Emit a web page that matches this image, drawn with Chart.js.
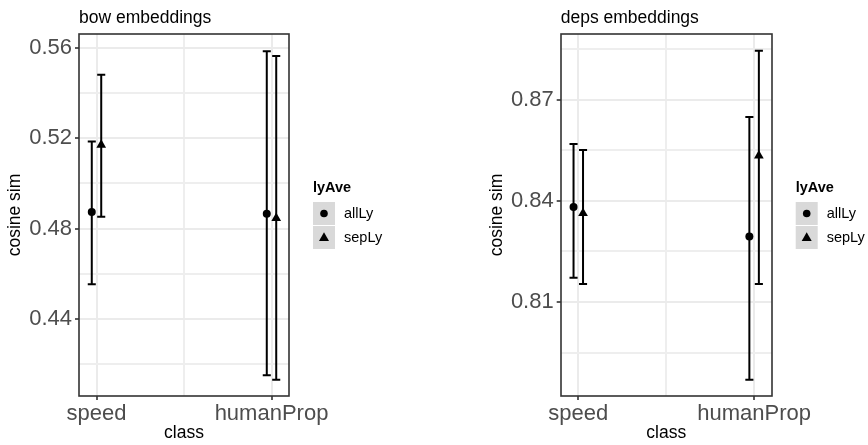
<!DOCTYPE html>
<html>
<head>
<meta charset="utf-8">
<script src="https://cdn.jsdelivr.net/npm/chart.js@4.4.1/dist/chart.umd.min.js"></script>
<style>
  html, body { margin: 0; padding: 0; background: #fff; }
  #wrap { position: relative; width: 868px; height: 445px; }
  .panel { position: absolute; top: 0; width: 434px; height: 445px; }
</style>
</head>
<body>
<div id="wrap">
  <div class="panel" style="left:0"><canvas id="bowChart" width="434" height="445"></canvas></div>
  <div class="panel" style="left:434px"><canvas id="depsChart" width="434" height="445"></canvas></div>
</div>
<script>
const classes = ["speed", "humanProp"];
const groups = ["allLy", "sepLy"];
const legendTitle = "lyAve";

/* bow embeddings */
const bowAllMean = [0.4873, 0.4866];
const bowAllLo = [0.4554, 0.4152];
const bowAllHi = [0.5185, 0.5584];
const bowSepMean = [0.5170, 0.4846];
const bowSepLo = [0.4852, 0.4132];
const bowSepHi = [0.5480, 0.5563];
const bowYMajor = [0.44, 0.48, 0.52, 0.56];
const bowYMinor = [0.42, 0.46, 0.50, 0.54];

/* deps embeddings */
const depsAllMean = [0.8382, 0.8294];
const depsAllLo = [0.8172, 0.7869];
const depsAllHi = [0.8569, 0.8649];
const depsSepMean = [0.8363, 0.8534];
const depsSepLo = [0.8153, 0.8153];
const depsSepHi = [0.8551, 0.8845];
const depsYMajor = [0.81, 0.84, 0.87];
const depsYMinor = [0.795, 0.825, 0.855, 0.885];

const FONT = '"Liberation Sans", Arial, Helvetica, sans-serif';
const dodge = 0.027;
const capWidth = 0.046;

Chart.defaults.font.family = FONT;

/* error bars, drawn under the points */
const errorBars = {
  id: "errorBars",
  beforeDatasetsDraw(chart) {
    const { ctx, scales: { x, y } } = chart;
    ctx.save();
    ctx.strokeStyle = "#000";
    ctx.lineWidth = 2;
    chart.data.datasets.forEach(ds => {
      ds.data.forEach(d => {
        const px = x.getPixelForValue(d.x);
        const half = x.getPixelForValue(d.x + capWidth / 2) - px;
        const yLo = y.getPixelForValue(d.lo);
        const yHi = y.getPixelForValue(d.hi);
        ctx.beginPath();
        ctx.moveTo(px, yLo); ctx.lineTo(px, yHi);
        ctx.moveTo(px - half, yLo); ctx.lineTo(px + half, yLo);
        ctx.moveTo(px - half, yHi); ctx.lineTo(px + half, yHi);
        ctx.stroke();
      });
    });
    ctx.restore();
  }
};

/* panel border, title and legend like ggplot theme_bw */
const ggDecor = {
  id: "ggDecor",
  afterDraw(chart, args, opts) {
    const { ctx, chartArea: a } = chart;
    ctx.save();
    ctx.strokeStyle = "#333";
    ctx.lineWidth = 1.6;
    ctx.strokeRect(Math.round(a.left), Math.round(a.top),
      Math.round(a.right - a.left), Math.round(a.bottom - a.top));

    ctx.fillStyle = "#000";
    ctx.font = "17.5px " + FONT;
    ctx.textBaseline = "alphabetic";
    ctx.textAlign = "left";
    ctx.fillText(opts.title, a.left, 23);

    // legend
    const lx = a.right + 24;
    const top = (a.top + a.bottom) / 2 - 34;
    ctx.font = "bold 14.5px " + FONT;
    ctx.fillText(legendTitle, lx, top + 10.5);
    groups.forEach((g, i) => {
      const ky = top + 21 + i * 24;
      ctx.fillStyle = "#D9D9D9";
      ctx.fillRect(lx, ky, 22, 23);
      const cx = lx + 11, cy = ky + 11.5;
      ctx.fillStyle = "#000";
      ctx.beginPath();
      if (i === 0) {
        ctx.arc(cx, cy, 3.8, 0, Math.PI * 2);
      } else {
        ctx.moveTo(cx, cy - 5.2);
        ctx.lineTo(cx + 5, cy + 3.6);
        ctx.lineTo(cx - 5, cy + 3.6);
        ctx.closePath();
      }
      ctx.fill();
      ctx.font = "14.5px " + FONT;
      ctx.textBaseline = "middle";
      ctx.fillText(g, lx + 31, cy);
      ctx.textBaseline = "alphabetic";
    });
    ctx.restore();
  }
};

function points(mean, lo, hi, shift) {
  return classes.map((c, i) => ({ x: i + 1 + shift, y: mean[i], lo: lo[i], hi: hi[i] }));
}

const gridOpts = {
  color: c => (c.tick && c.tick.lab ? "#EBEBEB" : "#EEEEEE"),
  lineWidth: 2,
  tickColor: c => (c.tick && c.tick.lab ? "#333" : "rgba(0,0,0,0)"),
  tickLength: 4,
  tickWidth: 1.6
};

function makePanel(id, title, all, sep, yMin, yMax, yMajor, yMinor, padLeft, padRight) {
  const yTicks = yMajor.map(v => ({ value: v, lab: true }))
    .concat(yMinor.map(v => ({ value: v, lab: false })))
    .sort((p, q) => p.value - q.value);
  const xTicks = [
    { value: 1, lab: classes[0] },
    { value: 1.5, lab: "" },
    { value: 2, lab: classes[1] }
  ];

  new Chart(document.getElementById(id), {
    type: "scatter",
    data: {
      datasets: [
        {
          label: groups[0],
          data: points(all[0], all[1], all[2], -dodge),
          pointStyle: "circle",
          pointRadius: 4,
          backgroundColor: "#000",
          borderWidth: 0
        },
        {
          label: groups[1],
          data: points(sep[0], sep[1], sep[2], dodge),
          pointStyle: "triangle",
          pointRadius: 5.6,
          backgroundColor: "#000",
          borderWidth: 0
        }
      ]
    },
    options: {
      responsive: false,
      animation: false,
      layout: { padding: { left: padLeft, right: padRight, top: 34, bottom: 0 } },
      plugins: {
        legend: { display: false },
        tooltip: { enabled: false },
        ggDecor: { title: title }
      },
      scales: {
        x: {
          type: "linear",
          min: 0.9,
          max: 2.1,
          afterBuildTicks: axis => { axis.ticks = xTicks.map(t => ({ ...t })); },
          afterFit: scale => { scale.height = 49; },
          ticks: {
            autoSkip: false,
            maxRotation: 0,
            padding: 1,
            color: "#4D4D4D",
            font: { size: 22 },
            callback: (v, i, ticks) => ticks[i].lab
          },
          grid: gridOpts,
          border: { display: false },
          title: {
            display: true,
            text: "class",
            color: "#000",
            font: { size: 17.5 },
            padding: { top: 0, bottom: 1 }
          }
        },
        y: {
          type: "linear",
          min: yMin,
          max: yMax,
          afterBuildTicks: axis => { axis.ticks = yTicks.map(t => ({ ...t })); },
          afterFit: scale => { scale.width = 79; },
          ticks: {
            autoSkip: false,
            padding: 3,
            color: "#4D4D4D",
            font: { size: 22 },
            callback: (v, i, ticks) => (ticks[i].lab ? String(v) : "")
          },
          grid: gridOpts,
          border: { display: false },
          title: {
            display: true,
            text: "cosine sim",
            color: "#000",
            font: { size: 17.5 },
            padding: { top: 5, bottom: 0 }
          }
        }
      }
    },
    plugins: [errorBars, ggDecor]
  });
}

makePanel("bowChart", "bow embeddings",
  [bowAllMean, bowAllLo, bowAllHi], [bowSepMean, bowSepLo, bowSepHi],
  0.406, 0.566, bowYMajor, bowYMinor, 0, 145);

makePanel("depsChart", "deps embeddings",
  [depsAllMean, depsAllLo, depsAllHi], [depsSepMean, depsSepLo, depsSepHi],
  0.7821, 0.8895, depsYMajor, depsYMinor, 47.7, 96.3);
</script>
</body>
</html>
